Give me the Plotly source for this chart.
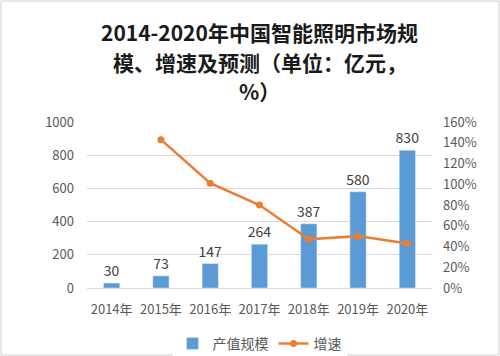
import plotly.graph_objects as go

years = ["2014年", "2015年", "2016年", "2017年", "2018年", "2019年", "2020年"]
output_value = [30, 73, 147, 264, 387, 580, 830]
growth_years = ["2015年", "2016年", "2017年", "2018年", "2019年", "2020年"]
growth_pct = [143, 101, 80, 47, 50, 43]
title_lines = ["2014-2020年中国智能照明市场规", "模、增速及预测（单位：亿元，", "%）"]

W, H = 500, 356
ML, MR, MT, MB = 87, 68, 122, 68
FONT = "Noto Sans CJK SC"

fig = go.Figure()
fig.add_trace(go.Bar(
    x=years, y=output_value, name="产值规模",
    marker_color="#5B9BD5",
    text=[str(v) for v in output_value], textposition="outside",
    constraintext="none",
    textfont=dict(size=14, color="#404040", family=FONT),
    cliponaxis=False,
))
fig.add_trace(go.Scatter(
    x=growth_years, y=growth_pct, name="增速", yaxis="y2",
    mode="lines+markers",
    line=dict(color="#ED7D31", width=2.5),
    marker=dict(color="#ED7D31", size=7),
))

pw = W - ML - MR
ph = H - MT - MB
title_px = [32, 62, 91]
annotations = []
for line, py in zip(title_lines, title_px):
    annotations.append(dict(
        text="<b>" + line + "</b>",
        xref="paper", yref="paper", x=0.5, y=(H - MB - py) / ph,
        xanchor="center", yanchor="middle", showarrow=False,
        font=dict(size=21, color="#1a1a1a", family=FONT),
    ))

fig.update_layout(
    width=W, height=H,
    margin=dict(l=ML, r=MR, t=MT, b=MB, autoexpand=False),
    paper_bgcolor="white", plot_bgcolor="white",
    font=dict(family=FONT, color="#595959", size=13),
    bargap=0.67,
    showlegend=True,
    legend=dict(orientation="h", x=0.5, xanchor="center", y=-0.24, yanchor="top",
                font=dict(size=14, color="#595959"), itemwidth=30, traceorder="normal"),
    xaxis=dict(type="category", categoryorder="array", categoryarray=years,
               showgrid=False, showline=True, linecolor="#d9d9d9", ticks="",
               ticklabelstandoff=9, tickfont=dict(size=13, color="#595959")),
    yaxis=dict(range=[0, 1000], dtick=200, showgrid=True, gridcolor="#d9d9d9",
               zeroline=False, showline=False, ticks="", ticklabelstandoff=12,
               tickfont=dict(size=13, color="#595959")),
    yaxis2=dict(range=[0, 160], dtick=20, overlaying="y", side="right",
                showgrid=False, zeroline=False, ticks="", ticksuffix="%",
                ticklabelstandoff=10, tickfont=dict(size=13, color="#595959")),
    annotations=annotations,
    shapes=[dict(type="rect", xref="paper", yref="paper",
                 x0=-(ML - 1) / pw, x1=1 + (MR - 1) / pw,
                 y0=-(MB - 1) / ph, y1=1 + (MT - 1) / ph,
                 line=dict(color="#cfcfcf", width=1))],
)

fig.write_html("out.html", config={"displayModeBar": False},
               post_script="document.body.style.margin='0';")
